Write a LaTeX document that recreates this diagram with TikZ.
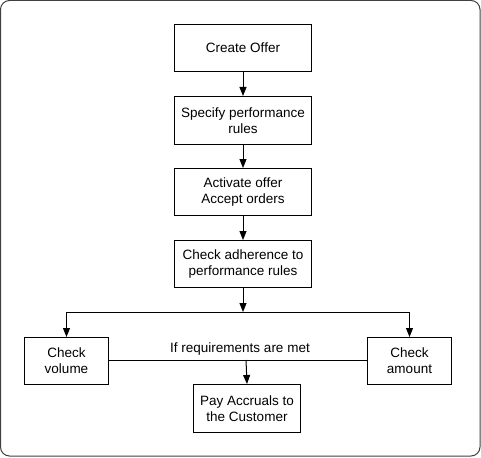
\documentclass[tikz,border=0pt]{standalone}
\usepackage{fontspec}
\setmainfont{Liberation Sans}
\usetikzlibrary{arrows.meta,positioning}
\begin{document}
\begin{tikzpicture}[x=1pt,y=-1pt,
  box/.style={draw=black,line width=1pt,anchor=north west,inner sep=0pt,align=center,font=\fontsize{13.5}{16}\selectfont},
  conn/.style={line width=1pt,-{Triangle[length=9pt,width=7pt]}},
  plain/.style={line width=1pt}]
\useasboundingbox (0,0) rectangle (481,457);
\draw[line width=1pt,draw=black!75,rounded corners=9pt] (0.5,0.5) rectangle (480,456);
\node[box,minimum width=137pt,minimum height=47pt] (b1) at (174,24) {Create Offer};
\node[box,minimum width=137pt,minimum height=48pt] (b2) at (174,96) {Specify performance\\rules};
\node[box,minimum width=137pt,minimum height=47pt] (b3) at (174,168) {Activate offer\\Accept orders};
\node[box,minimum width=137pt,minimum height=47pt] (b4) at (174,240) {Check adherence to\\performance rules};
\node[box,minimum width=84pt,minimum height=47pt] (cv) at (24,337) {Check\\volume};
\node[box,minimum width=84pt,minimum height=47pt] (ca) at (367,337) {Check\\amount};
\node[box,minimum width=107pt,minimum height=48pt] (pay) at (193,384) {Pay Accruals to\\the Customer};
\coordinate (split) at (243,312);
\coordinate (mid) at (246,360);
\draw[conn] (b1.south) -- (b2.north);
\draw[conn] (b2.south) -- (b3.north);
\draw[conn] (b3.south) -- (b4.north);
\draw[conn] (b4.south) -- (split);
\draw[conn] (split) -| (cv.north);
\draw[conn] (split) -| (ca.north);
\draw[plain] (cv.east |- mid) -- (ca.west |- mid);
\draw[conn] (mid) -- (pay.north);
\node[font=\fontsize{13.5}{16}\selectfont,inner sep=0pt] (lbl) at (240,349) {If requirements are met};
\end{tikzpicture}
\end{document}
